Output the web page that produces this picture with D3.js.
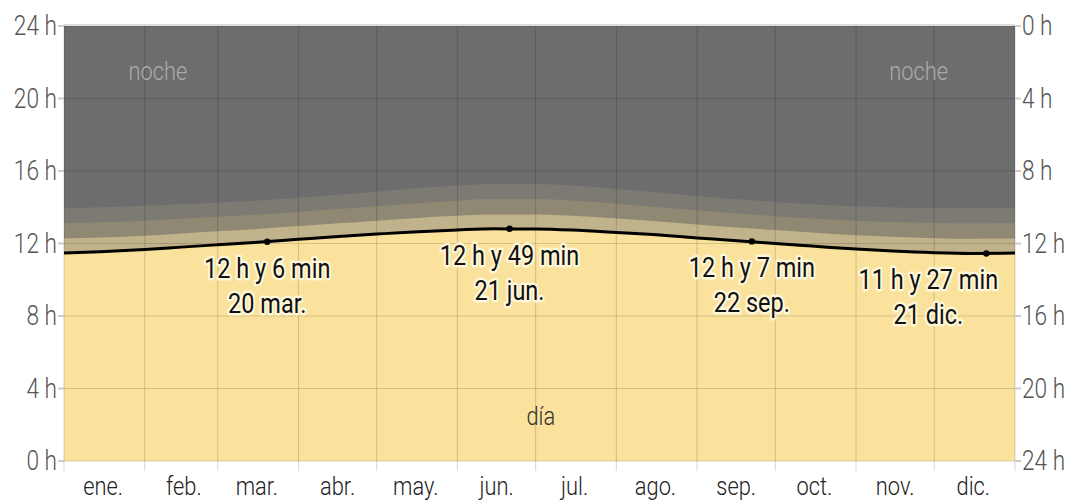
<!DOCTYPE html>
<html lang="es">
<head>
<meta charset="UTF-8">
<title>Horas de luz natural</title>
<script src="https://d3js.org/d3.v7.min.js"></script>
<style>
    body { margin: 0; background: #fff; }
    svg text { font-family: Roboto, "Noto Sans", sans-serif; font-weight: 300; }
    .axis-label { font-size: 27px; }
    .note { fill: #111; font-size: 28px; font-weight: 400; paint-order: stroke; stroke: #fffbe6; stroke-width: 5px; stroke-linejoin: round; stroke-opacity: 0.85; }
</style>
</head>
<body>
<svg id="chart" width="1071" height="502"></svg>
<script>
// data (hours)
const sampleDates = ["01-01", "01-15", "02-01", "02-15", "03-01", "03-15", "04-01", "04-15", "05-01", "05-15",
    "06-01", "06-15", "07-01", "07-15", "08-01", "08-15", "09-01", "09-15", "10-01", "10-15",
    "11-01", "11-15", "12-01", "12-15", "12-31"];
const daylight = [11.48, 11.55, 11.67, 11.80, 11.93, 12.06, 12.23, 12.37, 12.52, 12.64,
    12.75, 12.81, 12.80, 12.74, 12.61, 12.49, 12.31, 12.17, 12.00, 11.86,
    11.69, 11.58, 11.49, 11.45, 11.47];
const civilTwilight = [12.27, 12.33, 12.43, 12.55, 12.67, 12.79, 12.96, 13.10, 13.26, 13.40,
    13.53, 13.60, 13.60, 13.53, 13.38, 13.24, 13.05, 12.90, 12.74, 12.61,
    12.46, 12.37, 12.29, 12.26, 12.27];
const nauticalTwilight = [13.12, 13.17, 13.26, 13.36, 13.47, 13.58, 13.74, 13.89, 14.05, 14.21,
    14.36, 14.45, 14.45, 14.37, 14.19, 14.03, 13.83, 13.67, 13.51, 13.38,
    13.25, 13.18, 13.13, 13.11, 13.12];
const astroTwilight = [13.95, 14.00, 14.08, 14.16, 14.26, 14.36, 14.52, 14.68, 14.86, 15.04,
    15.20, 15.28, 15.28, 15.20, 15.01, 14.84, 14.62, 14.45, 14.29, 14.17,
    14.05, 13.99, 13.96, 13.95, 13.95];

const monthLabels = ["ene.", "feb.", "mar.", "abr.", "may.", "jun.", "jul.", "ago.", "sep.", "oct.", "nov.", "dic."];
const hourTicks = [0, 4, 8, 12, 16, 20, 24];

const eventDates = ["03-20", "06-21", "09-22", "12-21"];
const eventHours = [12.1, 12.817, 12.117, 11.45];
const eventLine1 = ["12 h y 6 min", "12 h y 49 min", "12 h y 7 min", "11 h y 27 min"];
const eventLine2 = ["20 mar.", "21 jun.", "22 sep.", "21 dic."];

const svg = d3.select("#chart");
const margin = {left: 64, right: 56, top: 26, bottom: 41};
const W = 1071, H = 502;
const sx = 0.84; // narrow glyphs like the original

const parse = s => new Date(2023, +s.slice(0, 2) - 1, +s.slice(3, 5));
const x = d3.scaleTime()
    .domain([new Date(2023, 0, 1), new Date(2024, 0, 1)])
    .range([margin.left, W - margin.right]);
const y = d3.scaleLinear().domain([0, 24]).range([H - margin.bottom, margin.top]);

const rows = sampleDates.map((d, i) => ({
    date: parse(d), day: daylight[i], civ: civilTwilight[i], nau: nauticalTwilight[i], ast: astroTwilight[i]
}));
rows[rows.length - 1].date = new Date(2024, 0, 1);

function txt(g, px, py, s, cls, anchor, color) {
    const t = g.append("text")
        .attr("class", cls)
        .attr("text-anchor", anchor)
        .attr("transform", `translate(${px},${py}) scale(${sx},1)`)
        .text(s);
    if (color) t.style("fill", color);
    return t;
}

// night background
svg.append("rect")
    .attr("x", x.range()[0]).attr("y", y(24))
    .attr("width", x.range()[1] - x.range()[0]).attr("height", y(0) - y(24))
    .attr("fill", "#6d6d6d");

const bands = [
    {key: "ast", color: "#7c7a73"},
    {key: "nau", color: "#8f8873"},
    {key: "civ", color: "#c0b28a"},
    {key: "day", color: "#fbe29c"}
];
bands.forEach(b => {
    svg.append("path")
        .datum(rows)
        .attr("fill", b.color)
        .attr("d", d3.area().curve(d3.curveMonotoneX)
            .x(d => x(d.date)).y0(y(0)).y1(d => y(d[b.key])));
});

// grid
const grid = svg.append("g").attr("stroke", "#000").attr("stroke-opacity", 0.14).attr("stroke-width", 1.2);
hourTicks.forEach(h => {
    grid.append("line").attr("x1", x.range()[0]).attr("x2", x.range()[1])
        .attr("y1", y(h)).attr("y2", y(h));
});
const monthStarts = d3.timeMonth.range(new Date(2023, 0, 1), new Date(2024, 0, 2));
monthStarts.forEach(m => {
    grid.append("line").attr("x1", x(m)).attr("x2", x(m))
        .attr("y1", y(24)).attr("y2", y(0) + 10);
});
svg.append("line").attr("x1", x.range()[0]).attr("x2", x.range()[1])
    .attr("y1", y(24) - 1).attr("y2", y(24) - 1).attr("stroke", "#ddd").attr("stroke-width", 2);

// daylight line
svg.append("path")
    .datum(rows)
    .attr("fill", "none").attr("stroke", "#000").attr("stroke-width", 3)
    .attr("d", d3.line().curve(d3.curveMonotoneX).x(d => x(d.date)).y(d => y(d.day)));

// axes ticks
const ticks = svg.append("g").attr("stroke", "#ccc").attr("stroke-width", 2);
hourTicks.forEach(h => {
    ticks.append("line").attr("x1", margin.left - 6).attr("x2", margin.left).attr("y1", y(h)).attr("y2", y(h));
    ticks.append("line").attr("x1", x.range()[1]).attr("x2", x.range()[1] + 6).attr("y1", y(h)).attr("y2", y(h));
});
const labels = svg.append("g");
hourTicks.forEach(h => {
    txt(labels, margin.left - 7, y(h) + 9, h + " h", "axis-label", "end", "#555");
    txt(labels, x.range()[1] + 7, y(h) + 9, (24 - h) + " h", "axis-label", "start", "#555");
});
monthStarts.slice(0, 12).forEach((m, i) => {
    const mid = new Date(m.getFullYear(), m.getMonth(), 16);
    txt(labels, x(mid), H - 7, monthLabels[i], "axis-label", "middle", "#222").style("font-size", "26px");
});

// region labels
txt(labels, x(new Date(2023, 1, 6)), y(22) + 18, "noche", "axis-label", "middle", "#ababab").style("font-size", "26px");
txt(labels, x(new Date(2023, 10, 25)), y(22) + 18, "noche", "axis-label", "middle", "#ababab").style("font-size", "26px");
txt(labels, x(new Date(2023, 6, 3)), y(2.5) + 9, "día", "axis-label", "middle", "#333").style("font-size", "26px");

// events
eventDates.forEach((d, i) => {
    const px = x(parse(d)), py = y(eventHours[i]);
    svg.append("circle").attr("cx", px).attr("cy", py).attr("r", 3.2).attr("fill", "#000");
    const lx = i === 3 ? px - 58 : px;
    txt(labels, lx, py + 36, eventLine1[i], "note", "middle");
    txt(labels, lx, py + 71, eventLine2[i], "note", "middle");
});
</script>
</body>
</html>
